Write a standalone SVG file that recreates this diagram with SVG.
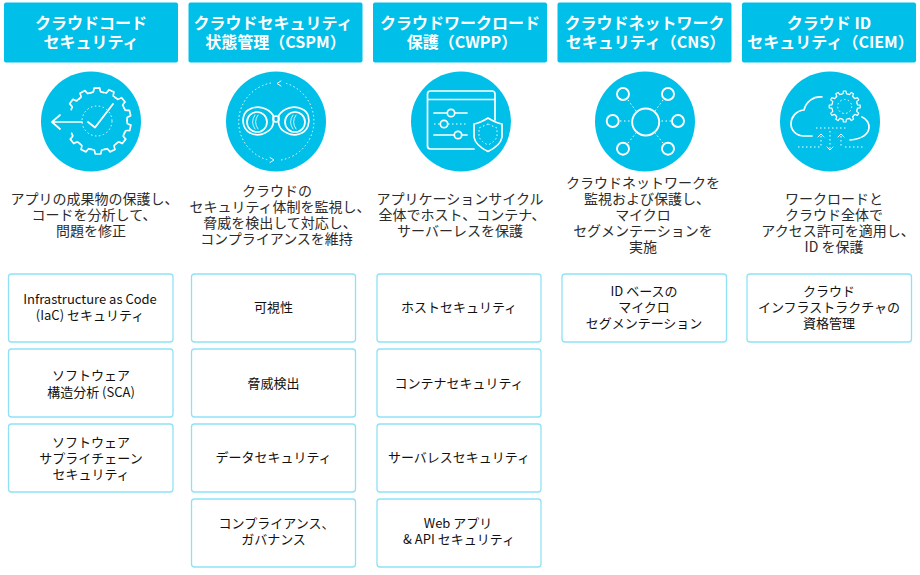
<svg xmlns="http://www.w3.org/2000/svg" width="920" height="575" viewBox="0 0 920 575">
<style>
text{font-family:"Noto Sans CJK JP","Noto Sans",sans-serif;text-anchor:middle}
.h rect{fill:#00bfe8}
.h text{fill:#fff;font-size:16px;font-weight:700}
.c{fill:#00bfe8}
.d{fill:#2b2b2b;font-size:14px}
.b rect{fill:#fff;stroke:#8fe2f5;stroke-width:1.3}
.b text{fill:#111;font-size:13px;font-weight:400}
.i{fill:none;stroke:#fff;stroke-width:1.7;stroke-linecap:round;stroke-linejoin:round}
.t{fill:none;stroke:#fff;stroke-width:1;stroke-dasharray:1.5 2.5}
</style>
<defs>
<path id="tooth" class="i" d="M28.300 -6.500 Q29 -5 29 -3.800 Q30 -3.200 33 -2.800 L33 2.800 Q30 3.200 29 3.800 Q29 5 28.300 6.500"/>
<path id="tooth5" class="i" style="stroke-width:1.200" d="M12.300 -3.300 L12.800 -1.700 L15.500 -1.300 L15.500 1.300 L12.800 1.700 L12.300 3.300"/>
</defs>
<rect width="920" height="575" fill="#fff"/>
<g id="col1" class="h"><rect x="4" y="2.500" width="174" height="60" rx="2"/><text x="91" y="29">クラウドコード</text><text x="91" y="48">セキュリティ</text></g>
<g id="col2" class="h"><rect x="188.500" y="2.500" width="174" height="60" rx="2"/><text x="273" y="29">クラウドセキュリティ</text><text x="275.500" y="48">状態管理（CSPM）</text></g>
<g id="col3" class="h"><rect x="373" y="2.500" width="174" height="60" rx="2"/><text x="460" y="29">クラウドワークロード</text><text x="462" y="48">保護（CWPP）</text></g>
<g id="col4" class="h"><rect x="557.500" y="2.500" width="174" height="60" rx="2"/><text x="644.500" y="29">クラウドネットワーク</text><text x="645.500" y="48">セキュリティ（CNS）</text></g>
<g id="col5" class="h"><rect x="742" y="2.500" width="174" height="60" rx="2"/><text x="829" y="29">クラウド ID</text><text x="830.500" y="48">セキュリティ（CIEM）</text></g>

<g id="icon1"><circle class="c" cx="91" cy="121.500" r="50"/>
<g transform="translate(98 121)">
<use href="#tooth" transform="rotate(-144)"/><use href="#tooth" transform="rotate(-118)"/><use href="#tooth" transform="rotate(-92)"/><use href="#tooth" transform="rotate(-66)"/><use href="#tooth" transform="rotate(-40)"/><use href="#tooth" transform="rotate(-14)"/><use href="#tooth" transform="rotate(12)"/><use href="#tooth" transform="rotate(38)"/><use href="#tooth" transform="rotate(64)"/><use href="#tooth" transform="rotate(90)"/><use href="#tooth" transform="rotate(116)"/><use href="#tooth" transform="rotate(142)"/>
</g>
<path class="i" d="M82 122 L52 122 M60 115 L52 122 L60 129"/>
<path class="i" style="stroke-width:1.900" d="M88 122 L95 127.500 L113 104"/><circle class="t" cx="97" cy="121" r="15"/></g>
<g id="icon2"><circle class="c" cx="276" cy="121.500" r="50"/>
<path class="t" d="M271 83 A39.500 39.500 0 0 0 268 160 M281 160 A39.500 39.500 0 0 0 285 83"/>
<path class="i" style="stroke-width:1" d="M281 81 L277 83.500 L281 86 M270 157.500 L274 160 L270 162.500"/>
<path class="i" d="M273 115 C268 108 258 105 250 109 C243 112 242 120 244 126 C247 134 257 137 265 133 C272 130 275 124 273 115 Z"/>
<path class="i" d="M279 115 C284 108 294 105 302 109 C309 112 310 120 308 126 C305 134 295 137 287 133 C280 130 277 124 279 115 Z"/>
<circle class="i" cx="257" cy="122" r="10"/><circle class="i" cx="295" cy="122" r="10"/>
<path class="i" style="stroke-width:.8" d="M255 115 Q250 122 255 129 M258 115 Q253 122 258 129 M293 115 Q288 122 293 129 M296 115 Q291 122 296 129"/>
<circle class="i" cx="276" cy="119" r="3"/></g>
<g id="icon3"><circle class="c" cx="461" cy="121.500" r="50"/>
<path class="i" d="M474 149 L430.500 149 Q427.500 149 427.500 146 L427.500 94 Q427.500 91 430.500 91 L492 91 Q495 91 495 94 L495 120 M427.500 99.500 L495 99.500 M434 113 L447 113 M455 113 L467 113 M434 135 L454 135 M462 135 L467 135"/>
<path class="t" d="M434 124 L440 124 M448 124 L468 124"/>
<circle class="i" cx="451" cy="113" r="3.700"/><circle class="i" cx="444" cy="124" r="3.700"/><circle class="i" cx="458" cy="135" r="3.700"/>
<path class="i" style="fill:#00bfe8" d="M488 118 Q480 123 474 124 L474 137 Q475 145 488 151.500 Q501 145 502 137 L502 124 Q496 123 488 118 Z"/><path class="t" d="M488 124 L479 128 L479 136 Q480 141 488 145 Q496 141 497 136 L497 128 Z"/></g>
<g id="icon4"><circle class="c" cx="645" cy="121.500" r="50"/>
<g class="i" style="stroke-width:1.900"><circle cx="645.700" cy="122" r="13.500"/>
<circle cx="623" cy="94" r="6"/><circle cx="668" cy="94" r="6"/><circle cx="612.700" cy="121" r="6"/><circle cx="678" cy="121" r="6"/><circle cx="623" cy="148.700" r="6"/><circle cx="668" cy="148.700" r="6"/></g>
<path class="t" d="M628 100 L636 111 M663 100 L655 111 M620 121 L631 121 M671 121 L660 121 M628 143 L636 133 M663 143 L655 133"/></g>
<g id="icon5"><circle class="c" cx="830" cy="121.500" r="50"/>
<path class="i" d="M822 97 C813 96 806 102 804 110 C795 111 791 118 791 124 C791 131 797 136 804 136 L812 136 M862 117 C867 119 869.500 124 869 128 C868 135 860 139 850 140"/>
<g transform="translate(844.700 106.500)">
<use href="#tooth5" transform="rotate(0)"/><use href="#tooth5" transform="rotate(30)"/><use href="#tooth5" transform="rotate(60)"/><use href="#tooth5" transform="rotate(90)"/><use href="#tooth5" transform="rotate(120)"/><use href="#tooth5" transform="rotate(150)"/><use href="#tooth5" transform="rotate(180)"/><use href="#tooth5" transform="rotate(210)"/><use href="#tooth5" transform="rotate(240)"/><use href="#tooth5" transform="rotate(270)"/><use href="#tooth5" transform="rotate(300)"/><use href="#tooth5" transform="rotate(330)"/>
</g>
<circle class="t" cx="844.700" cy="106.500" r="7"/>
<path class="t" d="M816 128 L846 128 M798 147 L820 147 M845 147 L864 147 M830 131 L830 149 M821 136 L821 147 M841 136 L841 147"/><path class="i" style="stroke-width:1" d="M818 137 L821 134 L824 137 M838 137 L841 134 L844 137 M827 147 L830 150 L833 147"/></g>

<g id="desc" class="d">
<text x="94.500" y="204">アプリの成果物の保護し、</text><text x="94" y="220">コードを分析して、</text><text x="91" y="236">問題を修正</text>
<text x="277" y="196">クラウドの</text><text x="280" y="212">セキュリティ体制を監視し、</text><text x="280" y="228">脅威を検出して対応し、</text><text x="276.500" y="244">コンプライアンスを維持</text>
<text x="460" y="204">アプリケーションサイクル</text><text x="462" y="220">全体でホスト、コンテナ、</text><text x="460" y="236">サーバーレスを保護</text>
<text x="643" y="188">クラウドネットワークを</text><text x="647" y="204">監視および保護し、</text><text x="643" y="220">マイクロ</text><text x="643" y="236">セグメンテーションを</text><text x="643" y="252">実施</text>
<text x="834" y="204">ワークロードと</text><text x="834" y="220">クラウド全体で</text><text x="838" y="236">アクセス許可を適用し、</text><text x="834" y="252">ID を保護</text>
</g>

<g id="box-1-1" class="b"><rect x="8.500" y="274" width="164.500" height="68" rx="3"/><text x="90" y="304">Infrastructure as Code</text><text x="90" y="320">(IaC) セキュリティ</text></g>
<g id="box-1-2" class="b"><rect x="8.500" y="349" width="164.500" height="68" rx="3"/><text x="91" y="380">ソフトウェア</text><text x="91" y="397">構造分析 (SCA)</text></g>
<g id="box-1-3" class="b"><rect x="8.500" y="424" width="164.500" height="68" rx="3"/><text x="91" y="447">ソフトウェア</text><text x="91" y="463">サプライチェーン</text><text x="91" y="479">セキュリティ</text></g>
<g id="box-2-1" class="b"><rect x="191.500" y="274" width="164" height="68" rx="3"/><text x="273.500" y="312">可視性</text></g>
<g id="box-2-2" class="b"><rect x="191.500" y="349" width="164" height="68" rx="3"/><text x="273.500" y="388">脅威検出</text></g>
<g id="box-2-3" class="b"><rect x="191.500" y="424" width="164" height="68" rx="3"/><text x="273.500" y="462">データセキュリティ</text></g>
<g id="box-2-4" class="b"><rect x="191.500" y="499" width="164" height="68" rx="3"/><text x="276.500" y="528">コンプライアンス、</text><text x="273.500" y="544">ガバナンス</text></g>
<g id="box-3-1" class="b"><rect x="377" y="274" width="164" height="68" rx="3"/><text x="459" y="312">ホストセキュリティ</text></g>
<g id="box-3-2" class="b"><rect x="377" y="349" width="164" height="68" rx="3"/><text x="459" y="388">コンテナセキュリティ</text></g>
<g id="box-3-3" class="b"><rect x="377" y="424" width="164" height="68" rx="3"/><text x="459" y="462">サーバレスセキュリティ</text></g>
<g id="box-3-4" class="b"><rect x="377" y="499" width="164" height="68" rx="3"/><text x="458" y="528">Web アプリ</text><text x="459" y="544">&amp; API セキュリティ</text></g>
<g id="box-4-1" class="b"><rect x="562" y="274" width="164.500" height="68" rx="3"/><text x="644" y="296">ID ベースの</text><text x="644" y="312">マイクロ</text><text x="644" y="328">セグメンテーション</text></g>
<g id="box-5-1" class="b"><rect x="747" y="274" width="164.500" height="68" rx="3"/><text x="829" y="296">クラウド</text><text x="829" y="312">インフラストラクチャの</text><text x="829" y="328">資格管理</text></g>
</svg>
